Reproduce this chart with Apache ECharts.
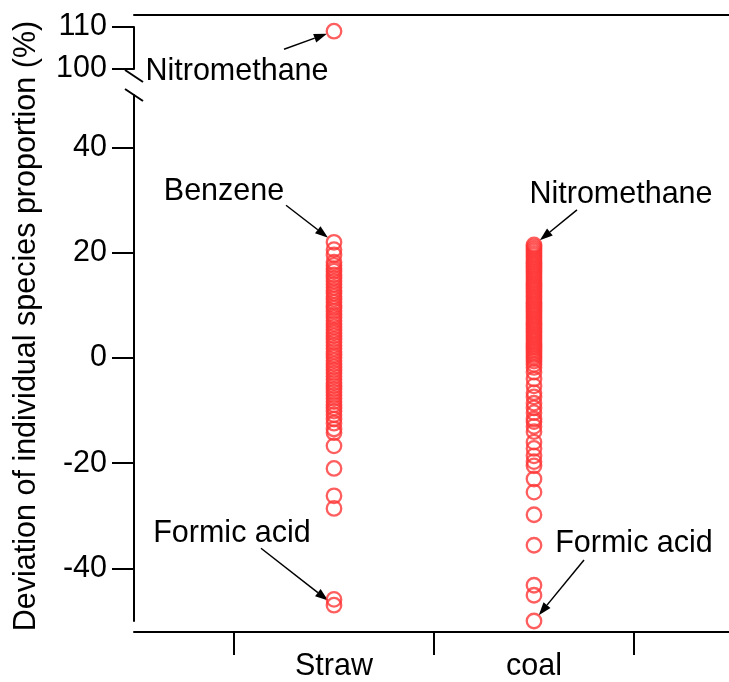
<!DOCTYPE html>
<html>
<head>
<meta charset="utf-8">
<script src="https://cdn.jsdelivr.net/npm/echarts@6/dist/echarts.min.js"></script>
<style>
  html, body { margin: 0; padding: 0; background: #fff; }
  #chart { width: 729px; height: 682px; }
</style>
</head>
<body>
<div id="chart"></div>
<script>
// Source categories (x positions are category index + 1.5, boundaries at 1, 2, 3)
const categories = ['Straw', 'coal'];

// Deviation of individual species proportion (%) per species
const strawValues = [
  22, 20.6, 19.6, 18.2, 17.6, 17, 16.5, 15.8, 15.2, 14.6, 14, 13.4, 12.8, 12.3,
  11.7, 11.2, 10.6, 10, 9.5, 8.9, 8.2, 7.7, 7.1, 6.5, 5.9, 5.3, 4.8, 4.2, 3.6,
  3, 2.4, 1.8, 1.2, 0.6, 0.1, -0.5, -1.1, -1.7, -2.3, -2.9, -3.5, -4.1, -4.7,
  -5.3, -5.9, -6.5, -7.1, -7.7, -8.3, -8.9, -9.5, -10.1, -10.8, -11.6, -12.4,
  -13.5, -14.2, -16.7, -21, -26.2, -28.6, -45.9, -47
];
const strawOutliers = [109];

const coalValues = [
  21.5, 21.1, 20.7, 20.3, 19.9, 19.5, 19.1, 18.7, 18.3, 17.9, 17.5, 17.1, 16.7,
  16.3, 15.9, 15.5, 15.1, 14.7, 14.3, 13.9, 13.5, 13.1, 12.7, 12.3, 11.9, 11.5,
  11.1, 10.7, 10.3, 9.9, 9.5, 9.1, 8.7, 8.3, 7.9, 7.5, 7.1, 6.7, 6.3, 5.9, 5.5,
  5.1, 4.7, 4.3, 3.9, 3.5, 3.1, 2.7, 2.3, 1.9, 1.5, 1.1, 0.7, 0.3, -0.1, -0.6,
  -1.2, -1.8, -2.7, -4, -5.3, -6.6, -7.4, -8.6, -9.5, -10.4, -11.6, -12.1, -13,
  -14, -16, -17.2, -18.6, -19.7, -20.5, -23, -25.5, -29.8, -35.6, -43.2, -45.1,
  -50
];

// Tick labels
const upperTicks = [100, 110];
const lowerTicks = [-40, -20, 0, 20, 40];
const lowerMinorTicks = [-50, -30, -10, 10, 30];
const categoryBounds = [1, 2, 3];

const yTitle = 'Deviation of individual species proportion (%)';

const FONT = '"Liberation Sans", Arial, sans-serif';
const FONT_SIZE = 30.5;
const RED = '#ff3636';
const BLACK = '#000';

const catX = i => i + 1.5;

const chart = echarts.init(document.getElementById('chart'), null, { renderer: 'canvas' });

const lineStyle = { color: BLACK, width: 2 };
const labelStyle = { color: BLACK, fontSize: FONT_SIZE, fontFamily: FONT };
const pointStyle = {
  type: 'scatter',
  symbol: 'circle',
  symbolSize: 14.5,
  clip: false,
  itemStyle: { color: 'rgba(0,0,0,0)', borderColor: RED, borderWidth: 2.3 },
  emphasis: { disabled: true }
};

chart.setOption({
  animation: false,
  grid: [
    { left: 134, right: 0, top: 27, height: 42 },
    { left: 134, right: 0, top: 95, bottom: 59 }
  ],
  xAxis: [
    {
      gridIndex: 0, type: 'value', min: 0.5, max: 3.475,
      position: 'top', offset: 12,
      axisLine: { show: true, onZero: false, lineStyle },
      axisTick: { show: false }, axisLabel: { show: false }, splitLine: { show: false }
    },
    {
      gridIndex: 1, type: 'value', min: 0.5, max: 3.475,
      position: 'bottom', offset: 11,
      axisLine: { show: true, onZero: false, lineStyle },
      axisTick: { show: true, length: 23, customValues: categoryBounds, lineStyle },
      axisLabel: Object.assign({
        customValues: categories.map((c, i) => catX(i)),
        formatter: v => categories[Math.round(v - 1.5)],
        margin: 19
      }, labelStyle),
      splitLine: { show: false }
    }
  ],
  yAxis: [
    {
      gridIndex: 0, type: 'value', min: 100, max: 110, interval: 10,
      axisLine: { show: true, onZero: false, lineStyle },
      axisTick: { show: true, length: 22, lineStyle },
      axisLabel: Object.assign({ margin: 27 }, labelStyle),
      splitLine: { show: false }
    },
    {
      gridIndex: 1, type: 'value', min: -50, max: 50,
      axisLine: { show: true, onZero: false, lineStyle },
      axisTick: { show: true, length: 22, customValues: lowerTicks, lineStyle },
      axisLabel: Object.assign({ customValues: lowerTicks, margin: 27 }, labelStyle),
      splitLine: { show: false }
    },
    {
      gridIndex: 1, type: 'value', min: -50, max: 50,
      axisLine: { show: false, onZero: false },
      axisTick: { show: true, length: 11, customValues: lowerMinorTicks, lineStyle },
      axisLabel: { show: false },
      splitLine: { show: false }
    }
  ],
  series: [
    Object.assign({ xAxisIndex: 0, yAxisIndex: 0, data: strawOutliers.map(v => [catX(0), v]) }, pointStyle),
    Object.assign({ xAxisIndex: 1, yAxisIndex: 1, data: strawValues.map(v => [catX(0), v]) }, pointStyle),
    Object.assign({ xAxisIndex: 1, yAxisIndex: 1, data: coalValues.map(v => [catX(1), v]) }, pointStyle)
  ]
});

// Annotated species: which point, and where its label / arrow tail sit relative to it (px)
const notes = [
  { text: 'Nitromethane', axes: 0, x: catX(0), y: strawOutliers[0], label: [-97, 40], tail: [-50, 18] },
  { text: 'Benzene', axes: 1, x: catX(0), y: Math.max(...strawValues), label: [-110, -51], tail: [-48, -37] },
  { text: 'Nitromethane', axes: 1, x: catX(1), y: Math.max(...coalValues), label: [87, -50], tail: [43, -35] },
  { text: 'Formic acid', axes: 1, x: catX(0), y: Math.min(...strawValues), label: [-102, -72], tail: [-73, -57] },
  { text: 'Formic acid', axes: 1, x: catX(1), y: Math.min(...coalValues), label: [100, -77], tail: [50, -61] }
];

function toPx(axes, x, y) {
  return chart.convertToPixel({ xAxisIndex: axes, yAxisIndex: axes }, [x, y]);
}

const elements = [];

function arrow(tail, tip) {
  const dx = tip[0] - tail[0], dy = tip[1] - tail[1];
  const len = Math.hypot(dx, dy), ux = dx / len, uy = dy / len;
  const headLen = 13, half = 4.5;
  const base = [tip[0] - ux * headLen, tip[1] - uy * headLen];
  elements.push({
    type: 'line', silent: true,
    shape: { x1: tail[0], y1: tail[1], x2: base[0], y2: base[1] },
    style: { stroke: BLACK, lineWidth: 1.5 }
  });
  elements.push({
    type: 'polygon', silent: true,
    shape: { points: [tip, [base[0] - uy * half, base[1] + ux * half], [base[0] + uy * half, base[1] - ux * half]] },
    style: { fill: BLACK }
  });
}

notes.forEach(n => {
  const p = toPx(n.axes, n.x, n.y);
  const tail = [p[0] + n.tail[0], p[1] + n.tail[1]];
  // stop the arrow at the rim of the marker
  const dx = p[0] - tail[0], dy = p[1] - tail[1], d = Math.hypot(dx, dy);
  const tip = [p[0] - dx / d * 7.5, p[1] - dy / d * 7.5];
  arrow(tail, tip);
  elements.push({
    type: 'text', silent: true,
    x: p[0] + n.label[0], y: p[1] + n.label[1],
    style: {
      text: n.text, fill: BLACK, font: FONT_SIZE + 'px ' + FONT,
      align: 'center', verticalAlign: 'middle',
      textAlign: 'center', textVerticalAlign: 'middle'
    }
  });
});

// Axis break marks between the two value ranges
const axisX = toPx(0, 0.5, 100)[0];
const breakA = toPx(0, 0.5, 100)[1] + 7;
const breakB = toPx(1, 0.5, 50)[1];
[breakA, breakB].forEach(y => {
  elements.push({
    type: 'line', silent: true,
    shape: { x1: axisX - 9, y1: y - 6, x2: axisX + 9, y2: y + 6 },
    style: { stroke: BLACK, lineWidth: 2 }
  });
});

// Shared y-axis title spanning both ranges
elements.push({
  type: 'text', silent: true,
  x: 27, y: 326, rotation: Math.PI / 2,
  style: {
    text: yTitle, fill: BLACK, font: FONT_SIZE + 'px ' + FONT,
    align: 'center', verticalAlign: 'middle',
    textAlign: 'center', textVerticalAlign: 'middle'
  }
});

chart.setOption({ graphic: { elements } });
</script>
</body>
</html>
